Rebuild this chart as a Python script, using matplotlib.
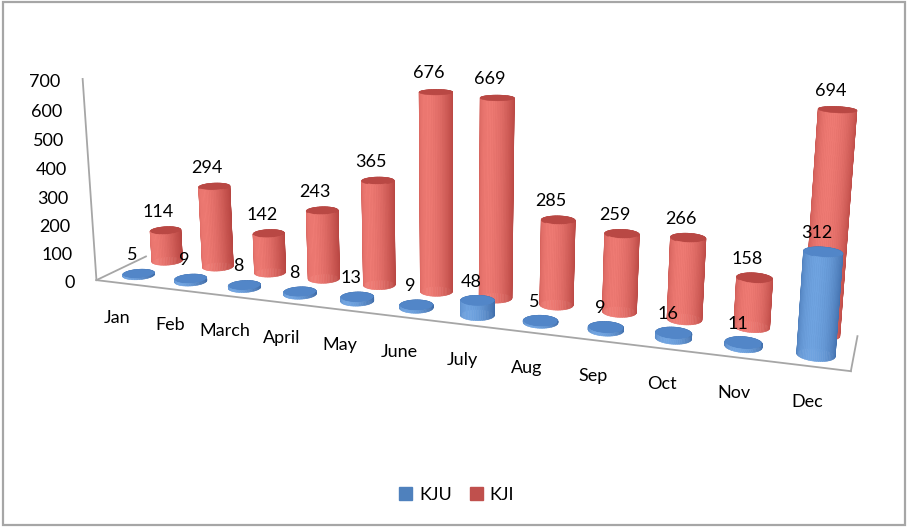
import matplotlib
matplotlib.use("Agg")

import numpy as np
import matplotlib.pyplot as plt
import matplotlib.transforms as mtransforms
from matplotlib.patches import Patch, Rectangle
from mpl_toolkits.mplot3d.art3d import Poly3DCollection

# Data
months = ["Jan", "Feb", "March", "April", "May", "June",
          "July", "Aug", "Sep", "Oct", "Nov", "Dec"]
kju = [5, 9, 8, 8, 13, 9, 48, 5, 9, 16, 11, 312]
kji = [114, 294, 142, 243, 365, 676, 669, 285, 259, 266, 158, 694]
value_ticks = [0, 100, 200, 300, 400, 500, 600, 700]

plt.rcParams["font.family"] = ["Lato", "DejaVu Sans"]
FS = 13

fig = plt.figure(figsize=(9.08, 5.28), dpi=100)
ax = fig.add_axes([-0.099, -0.409, 1.163, 2.0], projection="3d",
                  computed_zorder=False)
ax.set_xlim(-0.5, 11.5)
ax.set_ylim(0, 2)
ax.set_zlim(0, 700)
ax.set_box_aspect((0.569, 0.07, 0.159), zoom=0.757)
ax.view_init(elev=14, azim=-70)
ax.set_proj_type("persp", focal_length=0.23)
ax.set_xticks([])
ax.set_yticks([])
ax.set_zticks([])
ax.set_axis_off()

y_kju = 0.65
y_kji = 1.85

# cylinder radius in data units (circle in world space)
rx = 0.26
ry = 0.355
light_dir = np.deg2rad(-100)

M = ax.get_proj()


def shifted(dx, dy):
    # offset in pixels (figure dpi = 100)
    return ax.transData + mtransforms.ScaledTranslation(
        dx / 100, dy / 100, fig.dpi_scale_trans)


def label(x, y, z, s, dx, dy, **kw):
    # project the 3D anchor with the axes' own projection, then place 2D text
    p = M @ np.array([x, y, z, 1.0])
    ax.text2D(p[0] / p[3], p[1] / p[3], s, transform=shifted(dx, dy),
              fontsize=FS, zorder=3, **kw)


def hex2rgb(h):
    h = h.lstrip("#")
    return np.array([int(h[i:i + 2], 16) / 255 for i in (0, 2, 4)])


def cylinder(xc, yc, h, dark, light, top, zo):
    n = 60
    t = np.linspace(0, 2 * np.pi, n + 1)
    xs = xc + rx * np.cos(t)
    ys = yc + ry * np.sin(t)
    dark, light, top = hex2rgb(dark), hex2rgb(light), hex2rgb(top)
    verts, cols = [], []
    for i in range(n):
        verts.append([(xs[i], ys[i], 0), (xs[i + 1], ys[i + 1], 0),
                      (xs[i + 1], ys[i + 1], h), (xs[i], ys[i], h)])
        tm = 0.5 * (t[i] + t[i + 1])
        w = ((np.cos(tm - light_dir) + 1) / 2) ** 2
        cols.append(dark + (light - dark) * w)
    verts.append(list(zip(xs, ys, np.full(len(xs), h))))
    cols.append(top)
    pc = Poly3DCollection(verts, facecolors=cols, edgecolors=cols,
                          linewidths=0.4)
    pc.set_zorder(zo)
    ax.add_collection3d(pc)


# floor outline + value axis
gray = "#a6a6a6"
ax.plot([-0.5, 11.5], [0, 0], [0, 0], color=gray, lw=1.3, zorder=0)
ax.plot([-0.5, -0.5], [0, 2], [0, 0], color=gray, lw=1.3, zorder=0)
ax.plot([11.5, 11.5], [0, 2], [0, 0], color=gray, lw=1.3, zorder=0)
ax.plot([-0.5, -0.5], [0, 0], [0, 700], color=gray, lw=1.3, zorder=0)

# back row (KJI) then front row (KJU)
for i, v in enumerate(kji):
    cylinder(i, y_kji, v, "#b5433f", "#ee7a73", "#b94844", 1)
for i, v in enumerate(kju):
    cylinder(i, y_kju, v, "#3a67a4", "#6fa3e0", "#5286c8", 2)

# data labels
for i, v in enumerate(kji):
    label(i, y_kji, v, str(v), -7, 19, ha="center", va="center")
for i, v in enumerate(kju):
    label(i, y_kju, v, str(v), -6, 19, ha="center", va="center")

# value axis labels
for v in value_ticks:
    label(-0.5, 0, v, str(v), -22, -3, ha="right", va="center")

# category labels
for i, m in enumerate(months):
    label(i, 0, 0, m, -5, -35, ha="center", va="center")

fig.legend(handles=[Patch(color="#4F81BD", label="KJU"),
                    Patch(color="#C0504D", label="KJI")],
           loc="center", bbox_to_anchor=(0.503, 0.0625), ncol=2,
           frameon=False, handlelength=0.7, handleheight=0.7,
           handletextpad=0.4, columnspacing=1.0, fontsize=FS)

fig.add_artist(Rectangle((0.0028, 0.0066), 0.994, 0.9896,
                         transform=fig.transFigure, fill=False,
                         edgecolor=gray, lw=1.6))

fig.savefig("out.png", dpi=100)
